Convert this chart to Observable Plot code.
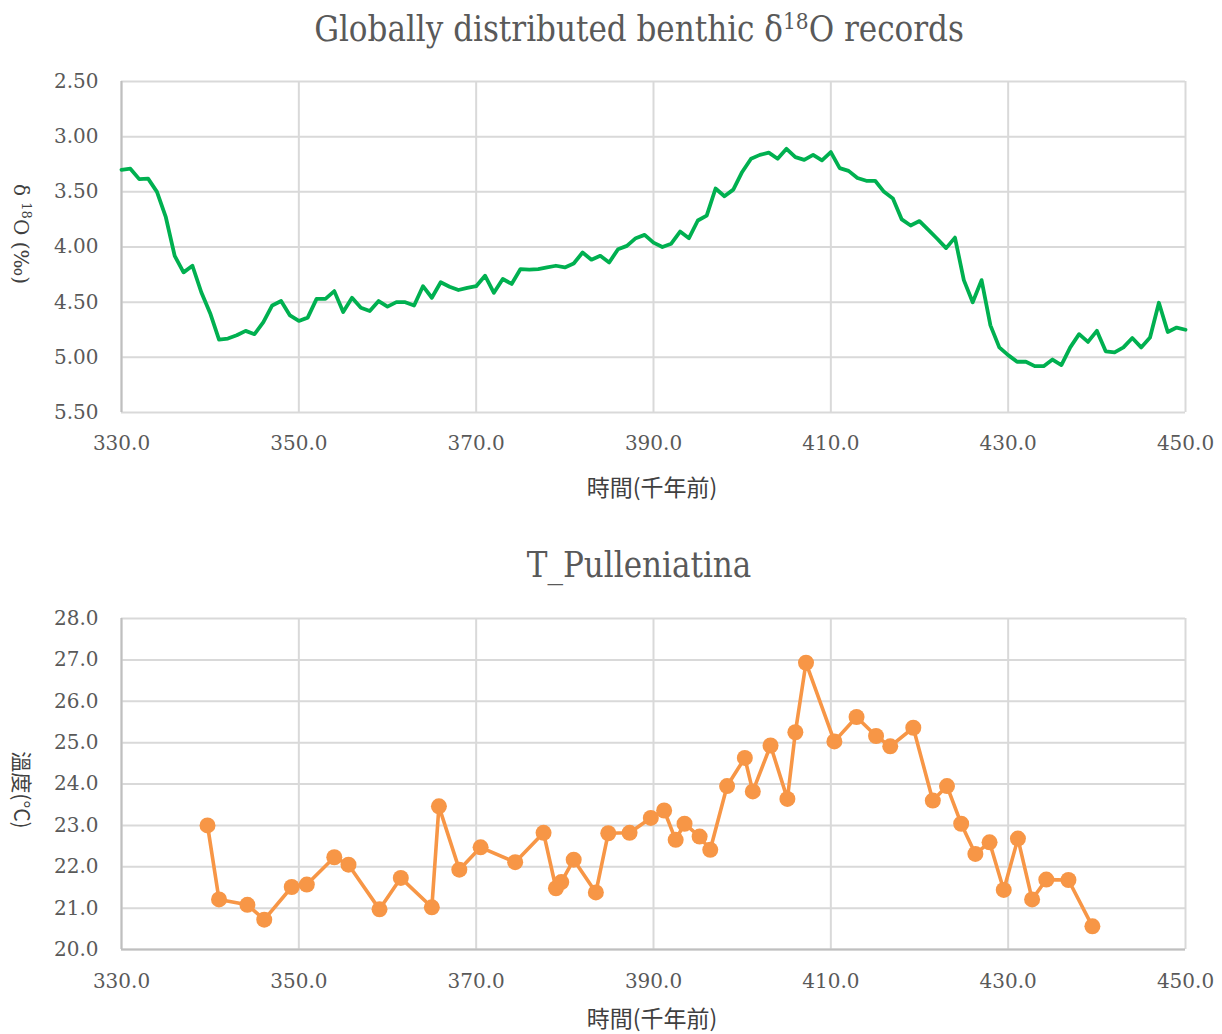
<!DOCTYPE html>
<html>
<head>
<meta charset="utf-8">
<script src="https://cdn.jsdelivr.net/npm/d3@7"></script>
<script src="https://cdn.jsdelivr.net/npm/@observablehq/plot@0.6"></script>
<style>
  html, body { margin: 0; padding: 0; background: #fff; }
  #wrap { position: relative; width: 1222px; height: 1034px; overflow: hidden; background: #fff; }
  .abs { position: absolute; white-space: nowrap; line-height: 1; }
  .title { font-family: "DejaVu Serif", serif; font-stretch: condensed; color: #595959; font-size: 34.5px; transform: translate(-50%, -50%); }
  .xlab { font-family: "Noto Sans CJK TC", sans-serif; color: #404040; font-size: 23px; transform: translate(-50%, -50%); }
  .ylab { color: #404040; font-size: 19px; transform: translate(-50%, -50%) rotate(90deg); }
  svg { position: absolute; left: 0; }
</style>
</head>
<body>
<div id="wrap"></div>
<script>
// ---- Top chart: benthic δ18O stack ----
const topAge = [330,331,332,333,334,335,336,337,338,339,340,341,342,343,344,345,346,347,348,349,
  350,351,352,353,354,355,356,357,358,359,360,361,362,363,364,365,366,367,368,369,
  370,371,372,373,374,375,376,377,378,379,380,381,382,383,384,385,386,387,388,389,
  390,391,392,393,394,395,396,397,398,399,400,401,402,403,404,405,406,407,408,409,
  410,411,412,413,414,415,416,417,418,419,420,421,422,423,424,425,426,427,428,429,
  430,431,432,433,434,435,436,437,438,439,440,441,442,443,444,445,446,447,448,449,450];
const topD18O = [3.30,3.29,3.385,3.38,3.50,3.73,4.08,4.23,4.17,4.41,4.60,4.84,4.83,4.80,4.76,4.79,4.68,4.53,4.49,4.62,
  4.67,4.64,4.47,4.47,4.40,4.59,4.46,4.55,4.58,4.49,4.54,4.50,4.50,4.53,4.355,4.46,4.32,4.36,4.39,4.37,
  4.355,4.26,4.415,4.29,4.335,4.20,4.205,4.20,4.185,4.17,4.185,4.15,4.05,4.115,4.08,4.14,4.02,3.99,3.92,3.89,
  3.96,4.00,3.97,3.86,3.92,3.76,3.715,3.47,3.54,3.48,3.32,3.20,3.165,3.145,3.20,3.11,3.185,3.21,3.165,3.215,
  3.14,3.285,3.31,3.375,3.40,3.40,3.50,3.56,3.75,3.805,3.765,3.845,3.925,4.01,3.915,4.30,4.50,4.30,4.71,4.91,
  4.98,5.04,5.04,5.08,5.08,5.02,5.07,4.91,4.79,4.86,4.76,4.945,4.955,4.91,4.825,4.91,4.82,4.505,4.77,4.73,4.75];

// ---- Bottom chart: T_Pulleniatina ----
const botAge = [339.7,341.0,344.2,346.1,349.2,350.9,354.0,355.6,359.1,361.5,365.0,365.8,368.1,370.5,
  374.4,377.6,379.0,379.6,381.0,383.5,384.9,387.3,389.7,391.2,392.5,393.5,395.2,396.4,
  398.3,400.3,401.2,403.2,405.1,406.0,407.2,410.4,412.9,415.1,416.7,419.3,421.5,423.1,
  424.7,426.3,427.9,429.5,431.1,432.7,434.3,436.8,439.5];
const botTemp = [23.00,21.21,21.08,20.72,21.51,21.57,22.23,22.05,20.97,21.73,21.02,23.46,21.93,22.47,
  22.11,22.82,21.48,21.63,22.17,21.38,22.81,22.82,23.18,23.36,22.65,23.04,22.73,22.41,
  23.95,24.63,23.82,24.93,23.64,25.25,26.93,25.03,25.62,25.16,24.91,25.36,23.60,23.95,
  23.04,22.31,22.59,21.44,22.68,21.21,21.69,21.68,20.56];

// ---- Tick values ----
const xTicks = [330,350,370,390,410,430,450];
const yTicksTop = [2.5,3.0,3.5,4.0,4.5,5.0,5.5];
const yTicksBot = [20,21,22,23,24,25,26,27,28];

// ---- Texts ----
const title1 = ["Globally distributed benthic δ", "18", "O records"];
const title2 = "T_Pulleniatina";
const xLabel = "時間(千年前)";
const yLabel1 = ["δ ", "18", "O (‰)"];
const yLabel2 = "溫度(°C)";

const GRID = "#d9d9d9", AXIS = "#bfbfbf", TXT = "#595959";
const common = {
  width: 1222, marginLeft: 121, marginRight: 37,
  style: {fontFamily: "DejaVu Serif", fontSize: "20px", color: TXT, background: "#fff", overflow: "visible"}
};

const topTable = topAge.map((a, i) => ({age: a, v: topD18O[i]}));
const botTable = botAge.map((a, i) => ({age: a, v: botTemp[i]}));

const chart1 = Plot.plot({
  ...common, height: 510, marginTop: 81, marginBottom: 98,
  x: {domain: [330, 450]},
  y: {domain: [2.5, 5.5], reverse: true},
  marks: [
    Plot.ruleX(xTicks, {stroke: GRID, strokeWidth: 2}),
    Plot.ruleY(yTicksTop, {stroke: GRID, strokeWidth: 2}),
    Plot.ruleX([330], {stroke: AXIS, strokeWidth: 2}),
    Plot.axisX(xTicks, {tickSize: 0, tickPadding: 23, tickFormat: d3.format(".1f"), label: null}),
    Plot.axisY(yTicksTop, {tickSize: 0, tickPadding: 23, tickFormat: d3.format(".2f"), label: null}),
    Plot.line(topTable, {x: "age", y: "v", stroke: "#00b050", strokeWidth: 3.8, strokeLinejoin: "round"})
  ]
});

const chart2 = Plot.plot({
  ...common, height: 504, marginTop: 88, marginBottom: 85,
  x: {domain: [330, 450]},
  y: {domain: [20, 28]},
  marks: [
    Plot.ruleX(xTicks, {stroke: GRID, strokeWidth: 2}),
    Plot.ruleY(yTicksBot, {stroke: GRID, strokeWidth: 2}),
    Plot.ruleX([330], {stroke: AXIS, strokeWidth: 2}),
    Plot.ruleY([20], {stroke: AXIS, strokeWidth: 2}),
    Plot.axisX(xTicks, {tickSize: 0, tickPadding: 24, tickFormat: d3.format(".1f"), label: null}),
    Plot.axisY(yTicksBot, {tickSize: 0, tickPadding: 23, tickFormat: d3.format(".1f"), label: null}),
    Plot.line(botTable, {x: "age", y: "v", stroke: "#f79646", strokeWidth: 3.6, strokeLinejoin: "round"}),
    Plot.dot(botTable, {x: "age", y: "v", r: 8, fill: "#f79646", stroke: "none"})
  ]
});

const wrap = document.getElementById("wrap");
chart1.style.top = "0px";
chart2.style.top = "530px";
wrap.appendChild(chart1);
wrap.appendChild(chart2);

function addDiv(cls, x, y, html, extra) {
  const d = document.createElement("div");
  d.className = "abs " + cls;
  d.style.left = x + "px";
  d.style.top = y + "px";
  d.innerHTML = html;
  if (extra) Object.assign(d.style, extra);
  wrap.appendChild(d);
  return d;
}
const sup = s => `<span style="font-size:0.65em;vertical-align:0.55em">${s}</span>`;
addDiv("title", 639, 28, title1[0] + sup(title1[1]) + title1[2]);
addDiv("title", 639, 565, title2);
addDiv("xlab", 652, 486, xLabel);
addDiv("xlab", 652, 1017, xLabel);
addDiv("ylab", 22, 234, yLabel1[0] + sup(yLabel1[1]) + yLabel1[2], {fontFamily: "DejaVu Serif", fontSize: "20px"});
addDiv("ylab", 22, 790, yLabel2, {fontFamily: "Noto Sans CJK TC", fontSize: "21px"});
</script>
</body>
</html>
